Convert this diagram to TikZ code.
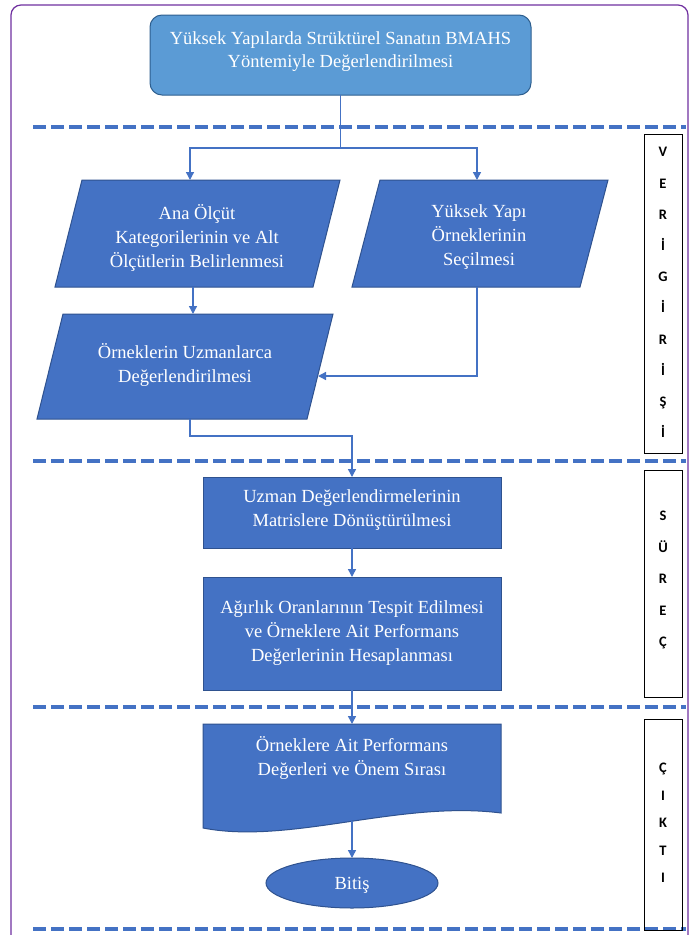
\documentclass[tikz,border=0pt]{standalone}
\usepackage{fontspec}
\setmainfont{Liberation Serif}
\newfontfamily\sidefont{Carlito}
\usetikzlibrary{arrows.meta,shapes.geometric}
\definecolor{fillb}{HTML}{4472C4}
\definecolor{bdr}{HTML}{2F528F}
\definecolor{titlef}{HTML}{5B9BD5}
\definecolor{titleb}{HTML}{2E5F8F}
\definecolor{lineb}{HTML}{4472C4}
\definecolor{frame}{HTML}{7030A0}
\tikzset{
  box/.style={draw=bdr, fill=fillb, line width=1pt, outer sep=0pt},
  linec/.style={draw=lineb, line width=1.4pt},
  conn/.style={linec, -{Triangle[length=8pt,width=8pt]}},
  sep/.style={draw=lineb, line width=4pt, dash pattern=on 13pt off 5pt},
  lbl/.style={text=white, font=\fontsize{18.5}{24}\selectfont, align=center, inner sep=0pt, yshift=-2.5pt},
  sidebox/.style={draw=black, line width=1pt, minimum width=38pt, outer sep=0pt},
  sidetxt/.style={font=\sidefont\bfseries\fontsize{14.5}{31.2}\selectfont, align=center, inner sep=0pt}
}
\begin{document}
\begin{tikzpicture}[x=1pt,y=-1pt]
\useasboundingbox[fill=white] (0,0) rectangle (694,935);
% frame
\draw[frame, line width=1.2pt, rounded corners=10pt] (11,5) rectangle (688,960);
% separators
\draw[sep] (33,127) -- (686,127);
\draw[sep] (33,461) -- (686,461);
\draw[sep] (33,707) -- (686,707);
\draw[sep] (33,929) -- (686,929);
% title
\node[box, draw=titleb, fill=titlef, rounded corners=12pt, minimum width=381pt, minimum height=80pt] (title) at (340.5,55) {};
\node[lbl, font=\fontsize{18.5}{23}\selectfont] (titletxt) at (340.5,49) {Yüksek Yapılarda Strüktürel Sanatın BMAHS\\Yöntemiyle Değerlendirilmesi};
% parallelogram 1
\path[box] (82,180) -- (340,180) -- (313,287) -- (55,287) -- cycle;
\node[lbl] (p1txt) at (197,235) {Ana Ölçüt\\Kategorilerinin ve Alt\\Ölçütlerin Belirlenmesi};
\coordinate (p1top) at (190,180);
\coordinate (p1bot) at (193,287);
% parallelogram 2
\path[box] (380,180) -- (608,180) -- (580,287) -- (352,287) -- cycle;
\node[lbl] (p2txt) at (479,235) {Yüksek Yapı\\Örneklerinin\\Seçilmesi};
\coordinate (p2top) at (477,180);
\coordinate (p2bot) at (477,287);
% parallelogram 3
\path[box] (63,314) -- (333,314) -- (307,419) -- (37,419) -- cycle;
\node[lbl] (p3txt) at (185,362) {Örneklerin Uzmanlarca\\Değerlendirilmesi};
\coordinate (p3top) at (193,314);
\coordinate (p3right) at (318,376);
\coordinate (p3bot) at (190,419);
% rectangles
\node[box, minimum width=298pt, minimum height=71pt] (r4) at (352,512.5) {};
\node[lbl] (r4txt) at (352,508) {Uzman Değerlendirmelerinin\\Matrislere Dönüştürülmesi};
\node[box, minimum width=298pt, minimum height=113pt] (r5) at (352,633.5) {};
\node[lbl] (r5txt) at (352,631) {Ağırlık Oranlarının Tespit Edilmesi\\ve Örneklere Ait Performans\\Değerlerinin Hesaplanması};
% document shape
\path[box] (203,724) -- (501,724) -- (501,813) .. controls (400,800) and (290,845) .. (203,828) -- cycle;
\node[lbl] (doctxt) at (352,755) {Örneklere Ait Performans\\Değerleri ve Önem Sırası};
\coordinate (doctop) at (352,724);
\coordinate (docbot) at (352,821);
% end
\node[box, ellipse, minimum width=172pt, minimum height=50pt] (end) at (352,883) {};
\node[lbl] (endtxt) at (352,883) {Bitiş};
% connectors
\coordinate (split) at (340.5,148);
\draw[linec] (title.south) -- (split);
\draw[conn] (split) -| (p1top);
\draw[conn] (split) -| (p2top);
\draw[conn] (p1bot) -- (p3top);
\draw[conn] (p2bot) |- (p3right);
\coordinate (k1) at (190,436);
\draw[conn] (p3bot) -- (k1) -| (r4.north);
\draw[conn] (r4.south) -- (r5.north);
\draw[conn] (r5.south) -- (doctop);
\draw[conn] (docbot) -- (end.north);
% side boxes
\node[sidebox, minimum height=319pt] (vbox) at (663,293.5) {};
\node[sidetxt] (vtxt) at (663,292.5) {V\\E\\R\\İ\\G\\İ\\R\\İ\\Ş\\İ};
\node[sidebox, minimum height=227pt] (sbox) at (663,583.5) {};
\node[sidetxt, font=\sidefont\bfseries\fontsize{14.5}{31.5}\selectfont] (stxt) at (663,580) {S\\Ü\\R\\E\\Ç};
\node[sidebox, minimum height=211pt] (cbox) at (663,824.5) {};
\node[sidetxt, font=\sidefont\bfseries\fontsize{14.5}{27.5}\selectfont] (ctxt) at (663,823) {Ç\\I\\K\\T\\I};
\end{tikzpicture}
\end{document}
